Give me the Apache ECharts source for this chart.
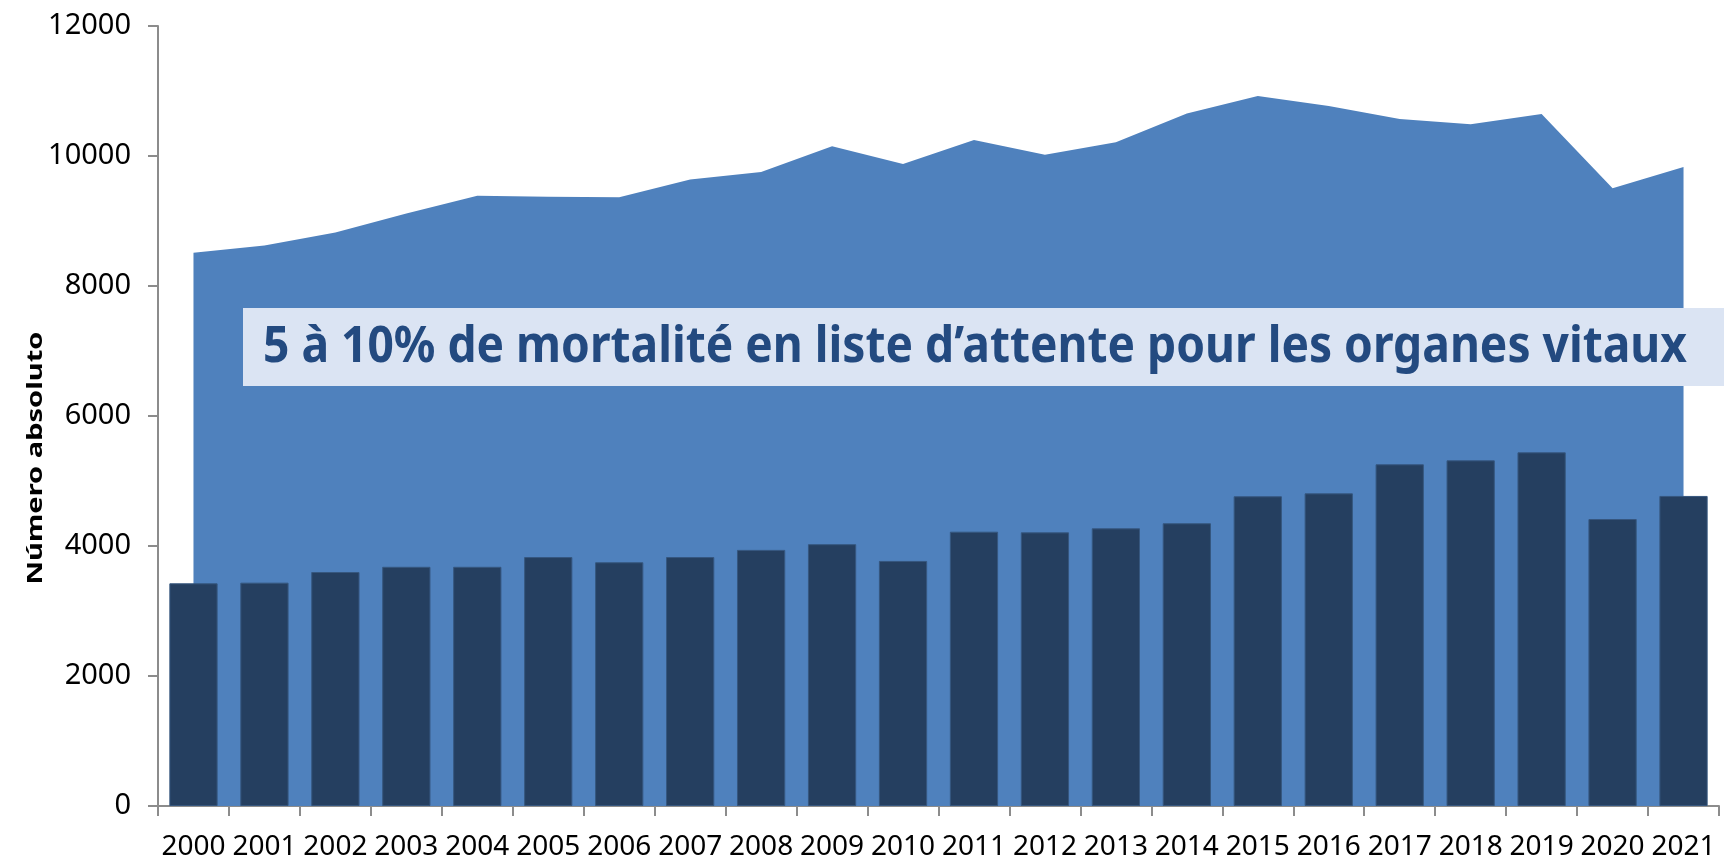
<!DOCTYPE html>
<html style="height: 100%">
<head>
    <meta charset="UTF-8">
    <script type="text/javascript" src="https://cdn.jsdelivr.net/npm/echarts@6/dist/echarts.min.js"></script>
    <style type="text/css">
        body {margin:0; padding:0; overflow:hidden; height:100%; background:#fff}
    </style>
</head>
<body>
    <div id="container" style="width:1728px;height:865px"></div>
<script>
    var years = ['2000','2001','2002','2003','2004','2005','2006','2007','2008','2009','2010',
                 '2011','2012','2013','2014','2015','2016','2017','2018','2019','2020','2021'];
    // zone bleue (aire)
    var areaValues = [8510, 8625, 8825, 9115, 9390, 9375, 9365, 9640, 9755, 10150, 9877,
                      10245, 10020, 10210, 10655, 10925, 10770, 10570, 10487, 10645, 9503, 9832];
    // barres bleu foncé
    var barValues = [3426, 3436, 3600, 3680, 3680, 3830, 3750, 3830, 3940, 4028, 3770,
                     4220, 4210, 4272, 4350, 4765, 4810, 5257, 5318, 5441, 4415, 4770];
    var yMin = 0, yMax = 12000, yStep = 2000;
    var axisTitle = 'Número absoluto';
    var bannerText = '5 à 10% de mortalité en liste d\u2019attente pour les organes vitaux';

    var myChart = echarts.init(document.getElementById('container'));

    // ajuste la largeur des textes (police d'origine plus large)
    var ctx = document.createElement('canvas').getContext('2d');
    function fit(text, font, target) {
        ctx.font = font;
        return target / ctx.measureText(text).width;
    }
    var bannerFont = 'bold 50px "Noto Sans"';
    var bannerScale = fit(bannerText, bannerFont, 1424);
    var titleFont = 'bold 21px "Noto Sans"';
    var titleScale = fit(axisTitle, titleFont, 253);

    var option = {
        animation: false,
        backgroundColor: '#ffffff',
        grid: {
            left: 158,
            right: 9,
            top: 26,
            bottom: 59,
            outerBoundsMode: 'none'
        },
        xAxis: {
            type: 'category',
            data: years,
            boundaryGap: true,
            axisLine: {lineStyle: {color: '#8c8c8c', width: 2}},
            axisTick: {show: true, length: 10, alignWithLabel: false, lineStyle: {color: '#8c8c8c', width: 2}},
            axisLabel: {
                color: '#000',
                fontFamily: 'Noto Sans',
                fontSize: 28,
                margin: 27,
                interval: 0
            },
            splitLine: {show: false}
        },
        yAxis: {
            type: 'value',
            min: yMin,
            max: yMax,
            interval: yStep,
            axisLine: {show: true, lineStyle: {color: '#8c8c8c', width: 2}},
            axisTick: {show: true, length: 10, lineStyle: {color: '#8c8c8c', width: 2}},
            axisLabel: {
                color: '#000',
                fontFamily: 'Noto Sans',
                fontSize: 29,
                margin: 27,
                formatter: function (v) { return String(v); }
            },
            splitLine: {show: false}
        },
        series: [
            {
                type: 'line',
                data: areaValues,
                symbol: 'none',
                lineStyle: {width: 0},
                areaStyle: {color: '#4f81bd', opacity: 1},
                z: 1
            },
            {
                type: 'bar',
                data: barValues,
                barWidth: '68%',
                itemStyle: {color: '#253f60', borderColor: '#36577f', borderWidth: 1},
                z: 2
            }
        ],
        graphic: [
            {
                type: 'rect',
                left: 243,
                top: 308,
                shape: {width: 1481, height: 78},
                style: {fill: '#dbe4f3'},
                z: 100
            },
            {
                type: 'text',
                x: 263,
                y: 348,
                scaleX: bannerScale,
                style: {
                    text: bannerText,
                    font: bannerFont,
                    fill: '#234a80',
                    textAlign: 'left',
                    textVerticalAlign: 'middle'
                },
                z: 101
            },
            {
                type: 'text',
                x: 36,
                y: 458,
                rotation: Math.PI / 2,
                scaleX: titleScale,
                style: {
                    text: axisTitle,
                    font: titleFont,
                    fill: '#000',
                    textAlign: 'center',
                    textVerticalAlign: 'middle'
                },
                z: 101
            }
        ]
    };
    myChart.setOption(option);
</script>
</body>
</html>
